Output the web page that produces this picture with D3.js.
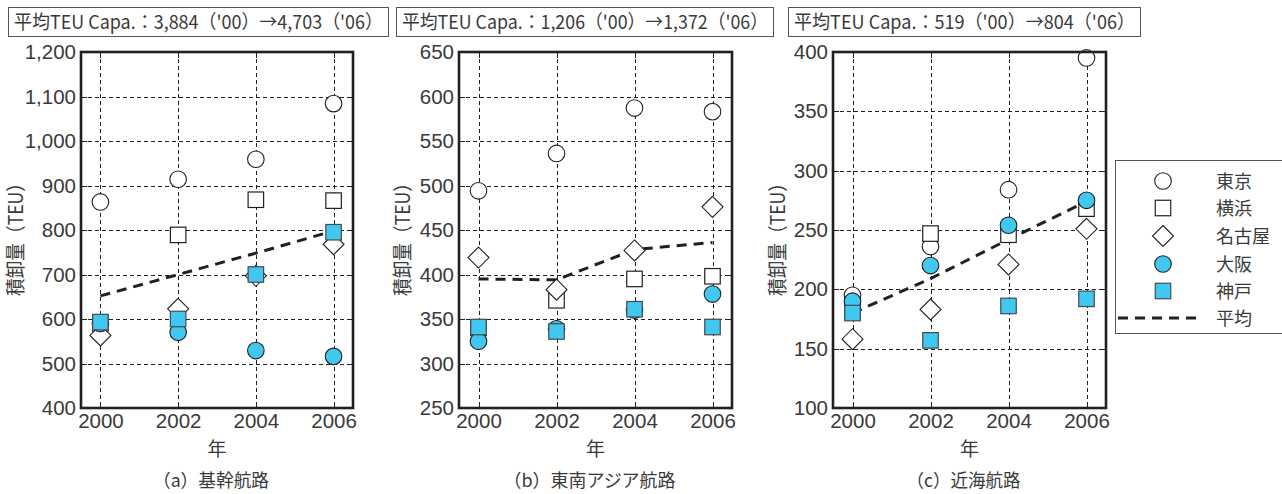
<!DOCTYPE html>
<html>
<head>
<meta charset="utf-8">
<script src="https://cdn.jsdelivr.net/npm/d3@7"></script>
<style>
  html, body { margin: 0; padding: 0; background: #fff; }
  svg { display: block; font-family: "Noto Sans CJK JP", "Noto Sans", sans-serif; }
</style>
</head>
<body>
<svg id="chart" width="1282" height="494"></svg>
<script>
// ---- data ----
const years = [2000, 2002, 2004, 2006];
const ports = ["東京", "横浜", "名古屋", "大阪", "神戸"];
const avgLabel = "平均";

const headers = [
  "平均TEU Capa.：3,884（'00）→4,703（'06）",
  "平均TEU Capa.：1,206（'00）→1,372（'06）",
  "平均TEU Capa.：519（'00）→804（'06）"
];
const captions = ["（a）基幹航路", "（b）東南アジア航路", "（c）近海航路"];
const yTitle = "積卸量（TEU）";
const xTitle = "年";

// (a) trunk routes
const tokyoA    = [863, 914, 959, 1084];
const yokohamaA = [590, 789, 868, 866];
const nagoyaA   = [563, 623, 697, 768];
const osakaA    = [590, 570, 529, 516];
const kobeA     = [593, 600, 700, 795];
const avgA      = [652, 700, 748, 798];
const ticksA    = [400, 500, 600, 700, 800, 900, 1000, 1100, 1200];

// (b) Southeast Asia routes
const tokyoB    = [494, 536, 587, 583];
const yokohamaB = [340, 371, 395, 398];
const nagoyaB   = [419, 383, 427, 476];
const osakaB    = [325, 339, 360, 378];
const kobeB     = [341, 336, 361, 341];
const avgB      = [395, 394, 428, 436];
const ticksB    = [250, 300, 350, 400, 450, 500, 550, 600, 650];

// (c) near-sea routes
const tokyoC    = [195, 236, 284, 395];
const yokohamaC = [182, 247, 246, 268];
const nagoyaC   = [158, 183, 221, 251];
const osakaC    = [190, 220, 254, 275];
const kobeC     = [180, 157, 186, 192];
const avgC      = [180, 209, 242, 274];
const ticksC    = [100, 150, 200, 250, 300, 350, 400];

const panels = [
  { series: [tokyoA, yokohamaA, nagoyaA, osakaA, kobeA], avg: avgA, ticks: ticksA,
    header: headers[0], caption: captions[0], capW: 116,
    box: { left: 81, right: 353, top: 52, bottom: 408 }, head: { x0: 8, x1: 388 }, ytx: 17 },
  { series: [tokyoB, yokohamaB, nagoyaB, osakaB, kobeB], avg: avgB, ticks: ticksB,
    header: headers[1], caption: captions[1], capW: 172,
    box: { left: 459, right: 732, top: 52, bottom: 408 }, head: { x0: 396, x1: 773 }, ytx: 404 },
  { series: [tokyoC, yokohamaC, nagoyaC, osakaC, kobeC], avg: avgC, ticks: ticksC,
    header: headers[2], caption: captions[2], capW: 114,
    box: { left: 833, right: 1106, top: 52, bottom: 408 }, head: { x0: 788, x1: 1140 }, ytx: 779 }
];

// ---- styles ----
const INK = "#231f20";
const TXT = "#3a3a3a";
const BLUE = "#40c8f1";

// marker look per port (same order as ports)
const markerStyles = [
  { shape: "circle",  fill: "#fff", stroke: INK },
  { shape: "square",  fill: "#fff", stroke: INK },
  { shape: "diamond", fill: "#fff", stroke: INK },
  { shape: "circle",  fill: BLUE,  stroke: INK },
  { shape: "square",  fill: BLUE,  stroke: "#4a4a4a" }
];

function drawMarker(g, style, x, y) {
  if (style.shape === "circle") {
    g.append("circle").attr("cx", x).attr("cy", y).attr("r", 8.3)
      .attr("fill", style.fill).attr("stroke", style.stroke).attr("stroke-width", 1.1);
  } else if (style.shape === "square") {
    const s = 15.5;
    g.append("rect").attr("x", x - s / 2).attr("y", y - s / 2).attr("width", s).attr("height", s)
      .attr("fill", style.fill).attr("stroke", style.stroke).attr("stroke-width", 1.2);
  } else {
    const h = 10.5;
    g.append("path").attr("d", `M${x},${y - h}L${x + h},${y}L${x},${y + h}L${x - h},${y}Z`)
      .attr("fill", style.fill).attr("stroke", style.stroke).attr("stroke-width", 1.1);
  }
}

const svg = d3.select("#chart");

panels.forEach(p => {
  const b = p.box;
  const x = d3.scaleLinear().domain([1999.5, 2006.5]).range([b.left, b.right]);
  const y = d3.scaleLinear().domain([p.ticks[0], p.ticks[p.ticks.length - 1]]).range([b.bottom, b.top]);
  const g = svg.append("g");

  // header box with capacity text
  const head = g.append("g");
  head.append("rect").attr("x", p.head.x0 + 0.5).attr("y", 7.5)
    .attr("width", p.head.x1 - p.head.x0).attr("height", 29)
    .attr("fill", "#fff").attr("stroke", "#555").attr("stroke-width", 1);
  head.append("text").attr("x", p.head.x0 + 6).attr("y", 29)
    .attr("font-size", 19).attr("fill", TXT)
    .attr("textLength", p.head.x1 - p.head.x0 - 11).attr("lengthAdjust", "spacingAndGlyphs")
    .text(p.header);

  // dashed grid
  const grid = g.append("g").attr("stroke", INK).attr("stroke-width", 1).attr("stroke-dasharray", "4,3");
  grid.selectAll(".gy").data(p.ticks.slice(1, -1)).join("line")
    .attr("x1", b.left).attr("x2", b.right)
    .attr("y1", d => Math.round(y(d)) + 0.5).attr("y2", d => Math.round(y(d)) + 0.5);
  grid.selectAll(".gx").data(years).join("line")
    .attr("y1", b.top).attr("y2", b.bottom)
    .attr("x1", d => Math.round(x(d)) + 0.5).attr("x2", d => Math.round(x(d)) + 0.5);

  // inner ticks on all four sides
  const tl = 6;
  const ticks = g.append("g").attr("stroke", INK).attr("stroke-width", 1);
  p.ticks.slice(1, -1).forEach(t => {
    const yy = Math.round(y(t)) + 0.5;
    ticks.append("line").attr("x1", b.left).attr("x2", b.left + tl).attr("y1", yy).attr("y2", yy);
    ticks.append("line").attr("x1", b.right - tl).attr("x2", b.right).attr("y1", yy).attr("y2", yy);
  });
  years.forEach(t => {
    const xx = Math.round(x(t)) + 0.5;
    ticks.append("line").attr("x1", xx).attr("x2", xx).attr("y1", b.top).attr("y2", b.top + tl);
    ticks.append("line").attr("x1", xx).attr("x2", xx).attr("y1", b.bottom - tl).attr("y2", b.bottom);
  });

  // axis labels via d3 axes
  const fmt = d3.format(",");
  const yAxis = g.append("g").attr("transform", `translate(${b.left},0)`)
    .call(d3.axisLeft(y).tickValues(p.ticks).tickFormat(fmt).tickSize(0).tickPadding(5));
  yAxis.select(".domain").remove();
  yAxis.selectAll("text").attr("font-size", 20.5).attr("fill", TXT)
    .attr("font-family", "'Liberation Sans', Arial, sans-serif");

  const xAxis = g.append("g").attr("transform", `translate(0,${b.bottom})`)
    .call(d3.axisBottom(x).tickValues(years).tickFormat(d3.format("d")).tickSize(0).tickPadding(5));
  xAxis.select(".domain").remove();
  xAxis.selectAll("text").attr("font-size", 20.5).attr("fill", TXT)
    .attr("font-family", "'Liberation Sans', Arial, sans-serif");

  // average trend line (under markers)
  const line = d3.line().x((d, i) => x(years[i])).y(d => y(d));
  g.append("path").datum(p.avg).attr("d", line)
    .attr("fill", "none").attr("stroke", INK).attr("stroke-width", 3)
    .attr("stroke-dasharray", "10,7");

  // markers
  p.series.forEach((vals, si) => {
    const mg = g.append("g");
    vals.forEach((v, i) => drawMarker(mg, markerStyles[si], x(years[i]), y(v)));
  });

  // frame
  g.append("rect").attr("x", b.left).attr("y", b.top)
    .attr("width", b.right - b.left).attr("height", b.bottom - b.top)
    .attr("fill", "none").attr("stroke", INK).attr("stroke-width", 2.6);

  // titles
  const cx = (b.left + b.right) / 2;
  g.append("text").attr("x", cx).attr("y", 456).attr("text-anchor", "middle")
    .attr("font-size", 19).attr("fill", TXT).text(xTitle);
  g.append("text").attr("x", cx - 6).attr("y", 487).attr("text-anchor", "middle")
    .attr("font-size", 18).attr("fill", TXT)
    .attr("textLength", p.capW).attr("lengthAdjust", "spacingAndGlyphs").text(p.caption);
  g.append("text")
    .attr("transform", `translate(${p.ytx + 6},${(b.top + b.bottom) / 2 + 5}) rotate(-90)`)
    .attr("text-anchor", "middle").attr("font-size", 20).attr("fill", TXT)
    .attr("textLength", 122).attr("lengthAdjust", "spacingAndGlyphs").text(yTitle);
});

// ---- legend ----
const lg = svg.append("g");
lg.append("rect").attr("x", 1115.5).attr("y", 160.5).attr("width", 200).attr("height", 173)
  .attr("fill", "#fff").attr("stroke", "#555").attr("stroke-width", 1);
const rowY = [181, 208, 236, 264, 291];
ports.forEach((name, i) => {
  drawMarker(lg, markerStyles[i], 1163, rowY[i]);
  lg.append("text").attr("x", 1216).attr("y", rowY[i] + 6.5)
    .attr("font-size", 18).attr("fill", TXT).text(name);
});
lg.append("line").attr("x1", 1118).attr("x2", 1203).attr("y1", 318).attr("y2", 318)
  .attr("stroke", INK).attr("stroke-width", 3).attr("stroke-dasharray", "10,7");
lg.append("text").attr("x", 1216).attr("y", 324.5)
  .attr("font-size", 18).attr("fill", TXT).text(avgLabel);
</script>
</body>
</html>
